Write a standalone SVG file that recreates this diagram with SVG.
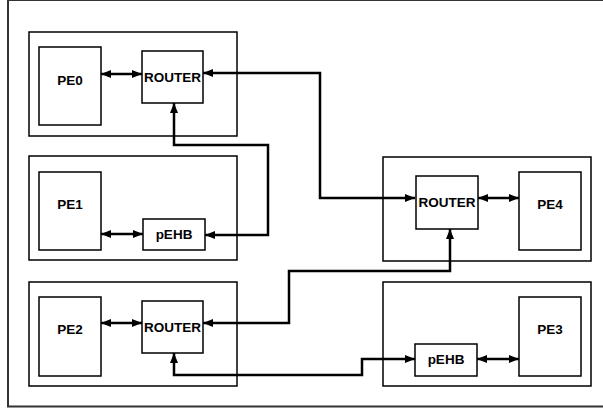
<svg xmlns="http://www.w3.org/2000/svg" width="603" height="410" viewBox="0 0 603 410">
<defs>
<marker id="ah" viewBox="0 0 10 8" refX="10" refY="4" markerWidth="10" markerHeight="8" markerUnits="userSpaceOnUse" orient="auto-start-reverse">
<path d="M0,0 L10,4 L0,8 Z" fill="#000"/>
</marker>
<style>
.frame{fill:#fff;stroke:#333;stroke-width:2}
.mod{fill:none;stroke:#000;stroke-width:1.5}
.box{fill:#fff;stroke:#000;stroke-width:1.5}
.lbl{font-family:"Liberation Sans",Arial,sans-serif;font-weight:bold;font-size:13.5px;fill:#000;text-anchor:middle;dominant-baseline:central}
.c{fill:none;stroke:#000;stroke-width:2.5}
.bi{marker-start:url(#ah);marker-end:url(#ah)}
</style>
</defs>
<rect class="frame" x="8" y="0" width="620" height="406.5"/>
<g id="module0"><rect class="mod" x="29" y="32" width="208" height="104"/></g>
<g id="module1"><rect class="mod" x="29" y="156" width="208" height="104"/></g>
<g id="module2"><rect class="mod" x="29" y="282" width="208" height="104"/></g>
<g id="module4"><rect class="mod" x="383" y="157" width="208" height="104"/></g>
<g id="module3"><rect class="mod" x="383" y="282" width="208" height="104"/></g>
<g id="connectors">
<line class="c bi" x1="101" y1="74" x2="142" y2="74"/>
<line class="c bi" x1="101" y1="234" x2="143" y2="234"/>
<line class="c bi" x1="101" y1="323" x2="142" y2="323"/>
<line class="c bi" x1="478" y1="198" x2="519" y2="198"/>
<line class="c bi" x1="477" y1="359" x2="519" y2="359"/>
<polyline class="c bi" points="415,198 320,198 320,73 203,73"/>
<polyline class="c bi" points="174,103 174,145 268,145 268,235 205,235"/>
<polyline class="c bi" points="450,229 450,271 289,271 289,323 203,323"/>
<polyline class="c bi" points="174,353 174,375 362,375 362,359 415,359"/>
</g>
<g id="PE0"><rect class="box" x="39" y="47" width="62" height="78"/><text class="lbl" x="70" y="80">PE0</text></g>
<g id="ROUTER0"><rect class="box" x="142" y="51" width="61" height="52"/><text class="lbl" x="172.5" y="77">ROUTER</text></g>
<g id="PE1"><rect class="box" x="39" y="172" width="62" height="78"/><text class="lbl" x="70" y="204">PE1</text></g>
<g id="pEHB1"><rect class="box" x="143" y="219" width="62" height="31"/><text class="lbl" x="174" y="234">pEHB</text></g>
<g id="PE2"><rect class="box" x="39" y="297" width="62" height="79"/><text class="lbl" x="70" y="329">PE2</text></g>
<g id="ROUTER2"><rect class="box" x="142" y="301" width="61" height="52"/><text class="lbl" x="172.5" y="327">ROUTER</text></g>
<g id="ROUTER4"><rect class="box" x="416" y="176" width="62" height="53"/><text class="lbl" x="447" y="202">ROUTER</text></g>
<g id="PE4"><rect class="box" x="519" y="172" width="62" height="78"/><text class="lbl" x="550" y="204">PE4</text></g>
<g id="pEHB3"><rect class="box" x="415" y="344" width="62" height="32"/><text class="lbl" x="446" y="359">pEHB</text></g>
<g id="PE3"><rect class="box" x="519" y="297" width="62" height="79"/><text class="lbl" x="550" y="329">PE3</text></g>
</svg>
